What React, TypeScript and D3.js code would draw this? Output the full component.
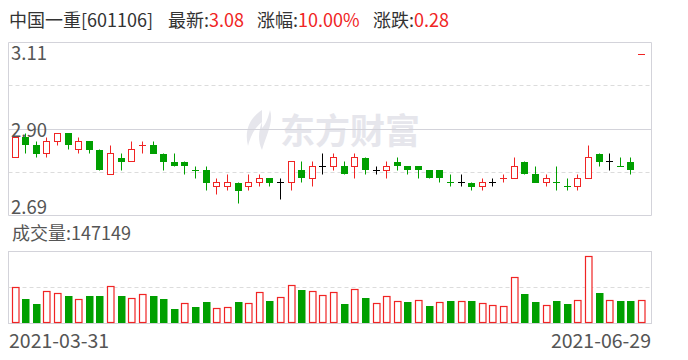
import React from "react";
import * as d3 from "d3";

// ---- data ----
const opens = [
  2.83, 2.88, 2.86, 2.84, 2.87, 2.89, 2.85, 2.87, 2.85, 2.79,
  2.83, 2.82, 2.86, 2.86, 2.84, 2.82, 2.82, 2.80, 2.80, 2.76,
  2.76, 2.77, 2.76, 2.77, 2.78, 2.77, 2.77, 2.80, 2.78, 2.81,
  2.81, 2.81, 2.81, 2.83, 2.80, 2.80, 2.82, 2.81, 2.81, 2.80,
  2.80, 2.77, 2.77, 2.77, 2.76, 2.77, 2.78, 2.78, 2.82, 2.79,
  2.77, 2.77, 2.76, 2.76, 2.78, 2.84, 2.82, 2.81, 2.82, 3.08,
];
const highs = [
  2.88, 2.89, 2.87, 2.88, 2.89, 2.89, 2.88, 2.87, 2.85, 2.86,
  2.84, 2.87, 2.87, 2.87, 2.84, 2.84, 2.82, 2.81, 2.81, 2.78,
  2.79, 2.77, 2.79, 2.79, 2.78, 2.78, 2.82, 2.82, 2.82, 2.84,
  2.84, 2.82, 2.84, 2.83, 2.81, 2.82, 2.83, 2.81, 2.81, 2.80,
  2.80, 2.79, 2.79, 2.77, 2.78, 2.78, 2.79, 2.83, 2.82, 2.81,
  2.79, 2.81, 2.78, 2.79, 2.86, 2.84, 2.84, 2.83, 2.83, 3.08,
];
const lows = [
  2.83, 2.84, 2.83, 2.83, 2.86, 2.85, 2.84, 2.84, 2.80, 2.79,
  2.80, 2.82, 2.84, 2.84, 2.80, 2.81, 2.79, 2.78, 2.75, 2.74,
  2.75, 2.72, 2.75, 2.76, 2.76, 2.73, 2.75, 2.77, 2.76, 2.79,
  2.80, 2.79, 2.78, 2.79, 2.79, 2.78, 2.80, 2.79, 2.78, 2.78,
  2.77, 2.76, 2.76, 2.75, 2.75, 2.76, 2.77, 2.78, 2.79, 2.77,
  2.76, 2.75, 2.75, 2.75, 2.78, 2.81, 2.80, 2.81, 2.79, 3.08,
];
const closes = [
  2.88, 2.86, 2.84, 2.87, 2.89, 2.86, 2.87, 2.85, 2.80, 2.84,
  2.82, 2.85, 2.86, 2.84, 2.82, 2.81, 2.81, 2.80, 2.77, 2.77,
  2.77, 2.75, 2.77, 2.78, 2.77, 2.77, 2.82, 2.78, 2.81, 2.81,
  2.83, 2.79, 2.83, 2.80, 2.80, 2.81, 2.81, 2.80, 2.80, 2.78,
  2.78, 2.77, 2.77, 2.76, 2.77, 2.77, 2.78, 2.81, 2.79, 2.77,
  2.78, 2.77, 2.76, 2.78, 2.83, 2.82, 2.82, 2.81, 2.80, 3.08,
];
const volumes = [
  233000, 162000, 129000, 207000, 194000, 176000, 154000, 182000, 182000, 240000,
  182000, 160000, 187000, 182000, 162000, 96000, 127000, 109000, 136000, 94000,
  101000, 136000, 127000, 200000, 143000, 167000, 247000, 222000, 207000, 180000,
  200000, 129000, 220000, 169000, 127000, 174000, 141000, 136000, 147000, 116000,
  134000, 149000, 141000, 143000, 127000, 114000, 107000, 300000, 189000, 136000,
  114000, 149000, 123000, 147000, 441000, 202000, 147000, 149000, 143000, 147149,
];
const firstPrevClose = 2.82;
const priceTicks = [3.11, 3.005, 2.9, 2.795, 2.69];
const priceLabels = ["3.11", "2.90", "2.69"];
const dateLabels = ["2021-03-31", "2021-06-29"];
const stockName = "中国一重[601106]";
const latestLabel = "最新:";
const latestValue = "3.08";
const pctLabel = "涨幅:";
const pctValue = "10.00%";
const chgLabel = "涨跌:";
const chgValue = "0.28";
const volLabel = "成交量:";
const volValue = "147149";
const watermark = "东方财富";

// ---- styles ----
const W = 688;
const H = 360;
const RED = "#f02424";
const GREEN = "#009f00";
const BLACK = "#000000";
const GRID = "#d3d3da";
const DASH = "#dcdcdc";
const TEXT = "#555555";
const HEAD = "#333333";
const FONT = "'Noto Sans CJK SC', 'Noto Sans', sans-serif";

export default function App() {
  const left = 8.5;
  const right = 651.5;
  const pTop = 42.5;
  const pBottom = 215.5;
  const vTop = 251.5;
  const vBottom = 323.5;

  const idx = d3.range(closes.length);
  const x = d3.scaleBand<number>().domain(idx).range([9.7, 646.9]).padding(0);
  const step = x.step();
  const y = d3.scaleLinear().domain([2.69, 3.11]).range([pBottom, pTop]);
  const vmax = (d3.max(volumes) as number) * 1.075;
  const vy = d3.scaleLinear().domain([0, vmax]).range([vBottom - 0.5, vTop]);

  const snap = (v: number) => Math.floor(v) + 0.5;

  const candles = idx.map((i) => {
    const o = opens[i], c = closes[i], h = highs[i], l = lows[i];
    const prev = i === 0 ? firstPrevClose : closes[i - 1];
    const cx = (x(i) as number) + step / 2;
    const bl = Math.round(cx - 3.5);
    const wx = bl + 3.5;
    const yh = snap(y(h)), yl = snap(y(l));
    if (Math.abs(o - c) < 1e-9) {
      const col = c > prev + 1e-9 ? RED : c < prev - 1e-9 ? GREEN : BLACK;
      const yc = snap(y(c));
      return (
        <g key={i} stroke={col} strokeWidth={1}>
          {yl - yh > 0.5 && <line x1={wx} x2={wx} y1={yh} y2={yl} />}
          <line x1={bl} x2={bl + 7} y1={yc} y2={yc} />
        </g>
      );
    }
    if (c > o) {
      const yt = snap(y(c)), yb = snap(y(o));
      return (
        <g key={i} stroke={RED} strokeWidth={1} fill="#fff">
          {yt - yh > 0.5 && <line x1={wx} x2={wx} y1={yh} y2={yt} />}
          {yl - yb > 0.5 && <line x1={wx} x2={wx} y1={yb} y2={yl} />}
          <rect x={bl + 0.5} y={yt} width={6} height={yb - yt} />
        </g>
      );
    }
    const rt = Math.round(y(o)), rb = Math.round(y(c));
    return (
      <g key={i}>
        <line x1={wx} x2={wx} y1={yh} y2={yl} stroke={GREEN} strokeWidth={1} />
        <rect x={bl} y={rt} width={7} height={Math.max(1, rb - rt)} fill={GREEN} />
      </g>
    );
  });

  const vbars = idx.map((i) => {
    const prev = i === 0 ? firstPrevClose : closes[i - 1];
    const up = closes[i] >= prev - 1e-9;
    const cx = (x(i) as number) + step / 2;
    const bl = Math.round(cx - 3.5);
    const top = vy(volumes[i]);
    if (up) {
      const t = snap(top);
      return (
        <rect key={i} x={bl + 0.5} y={t} width={6.5} height={vBottom - 1 - t}
          fill="#fff" stroke={RED} strokeWidth={1.2} />
      );
    }
    const t = Math.round(top);
    return <rect key={i} x={bl} y={t} width={7.5} height={vBottom - 0.5 - t} fill={GREEN} />;
  });

  return (
    <svg width={W} height={H} viewBox={`0 0 ${W} ${H}`}
      style={{ position: "absolute", left: 0, top: 0, display: "block", background: "#fff" }}
      fontFamily={FONT}>
      {/* header */}
      <text x={9} y={27} fontSize={18} fill={HEAD}>{stockName}</text>
      <text x={168} y={27} fontSize={18} fill={HEAD}>
        {latestLabel}<tspan fill={RED}>{latestValue}</tspan>
      </text>
      <text x={257} y={27} fontSize={18} fill={HEAD}>
        {pctLabel}<tspan fill={RED}>{pctValue}</tspan>
      </text>
      <text x={373} y={27} fontSize={18} fill={HEAD}>
        {chgLabel}<tspan fill={RED}>{chgValue}</tspan>
      </text>

      {/* watermark */}
      <g fill="#e6e6ec">
        <path d="M262,110 C250,118 244,130 248,146 C250,138 254,128 262,122 C258,132 258,142 262,150 C266,136 274,122 270,110 C268,118 266,124 262,128 C262,122 262,116 262,110 Z" />
        <text x={280} y={144} fontSize={35} fontWeight="bold">{watermark}</text>
      </g>

      {/* price panel grid */}
      {priceTicks.map((t, k) => {
        const yy = snap(y(t));
        const dashed = k === 1 || k === 3;
        return (
          <line key={k} x1={left} x2={right} y1={yy} y2={yy}
            stroke={dashed ? DASH : GRID} strokeWidth={1}
            strokeDasharray={dashed ? "4,3" : undefined} />
        );
      })}
      <line x1={left} x2={left} y1={pTop} y2={pBottom} stroke={GRID} />
      <line x1={right} x2={right} y1={pTop} y2={pBottom} stroke={GRID} />

      {/* price labels */}
      <text x={11} y={60} fontSize={18.5} fill={TEXT}>{priceLabels[0]}</text>
      <text x={11} y={137} fontSize={18.5} fill={TEXT}>{priceLabels[1]}</text>
      <text x={11} y={214} fontSize={18.5} fill={TEXT}>{priceLabels[2]}</text>

      {candles}

      {/* volume panel */}
      <text x={12} y={240} fontSize={18} fill={TEXT}>{volLabel}{volValue}</text>
      <rect x={left} y={vTop} width={right - left} height={vBottom - vTop} fill="none" stroke={GRID} />
      <line x1={left} x2={right} y1={snap(vy(vmax / 2))} y2={snap(vy(vmax / 2))}
        stroke={DASH} strokeDasharray="4,3" />
      {vbars}

      {/* date labels */}
      <text x={9} y={348} fontSize={19.5} fill={TEXT}>{dateLabels[0]}</text>
      <text x={651} y={348} fontSize={19.5} fill={TEXT} textAnchor="end">{dateLabels[1]}</text>
    </svg>
  );
}
